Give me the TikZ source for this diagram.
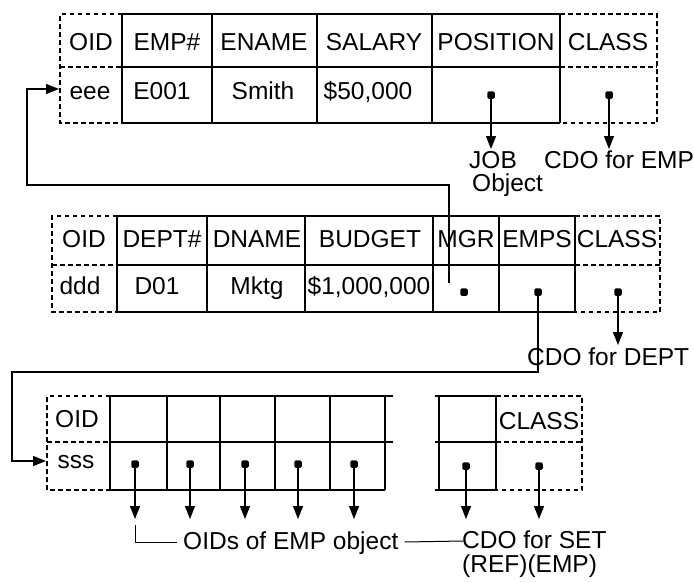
\documentclass[tikz,border=0pt]{standalone}
\usepackage{fontspec}
\setmainfont{Liberation Sans}
\usetikzlibrary{arrows.meta}
\begin{document}
\begin{tikzpicture}[x=1pt,y=-1pt,
  grid/.style={line width=1.4pt},
  dashl/.style={line width=1.2pt, dash pattern=on 4.5pt off 3.5pt},
  txt/.style={font=\fontsize{24.5}{22}\selectfont, inner sep=0pt, anchor=base},
  lbl/.style={font=\fontsize{24.5}{22}\selectfont, inner sep=0pt, anchor=base west},
  dotn/.style={rectangle, rounded corners=1.5pt, fill=black, minimum size=7.5pt, inner sep=0pt},
  arr/.style={-{Triangle[length=13pt,width=10pt]}, line width=1.2pt},
  thin/.style={line width=1pt},
]
\useasboundingbox[fill=white] (0,0) rectangle (694,582);

% ---------------- Table 1: EMP ----------------
\draw[grid] (122,14) -- (560,14) (122,67) -- (560,67) (122,123) -- (560,123);
\foreach \x in {122,212,317,432,560} \draw[grid] (\x,14) -- (\x,123);
\draw[dashl] (122,14) -- (60,14) -- (60,123) -- (122,123) (60,67) -- (122,67);
\draw[dashl] (560,14) -- (657,14) -- (657,123) -- (560,123) (560,67) -- (657,67);
\node[txt] (e1) at (91,50) {OID};
\node[txt] (e2) at (167,50) {EMP\#};
\node[txt] (e3) at (264,50) {ENAME};
\node[txt] (e4) at (374,50) {SALARY};
\node[txt] (e5) at (496,50) {POSITION};
\node[txt] (e6) at (608,50) {CLASS};
\node[txt] (e7) at (90,99) {eee};
\node[txt] (e8) at (162,99) {E001};
\node[txt] (e9) at (263,99) {Smith};
\node[txt] (e10) at (368,99) {\$50,000};
\node[dotn] (posdot) at (491,95) {};
\node[dotn] (clsdot1) at (609,95) {};
\node[lbl] (job) at (469,168) {JOB};
\node[lbl] (jobobj) at (472,191) {Object};
\node[lbl] (cdoemp) at (544,168) {CDO for EMP};
\coordinate (jobtip) at (491,149);
\coordinate (cdoemptip) at (609,149);
\draw[arr] (posdot.center) -- (jobtip);
\draw[arr] (clsdot1.center) -- (cdoemptip);

% ---------------- Table 2: DEPT ----------------
\draw[grid] (117,216) -- (575,216) (117,265) -- (575,265) (117,312) -- (575,312);
\foreach \x in {117,207,305,433,499,575} \draw[grid] (\x,216) -- (\x,312);
\draw[dashl] (117,216) -- (52,216) -- (52,312) -- (117,312) (52,265) -- (117,265);
\draw[dashl] (575,216) -- (660,216) -- (660,312) -- (575,312) (575,265) -- (660,265);
\node[txt] (d1) at (84,247) {OID};
\node[txt] (d2) at (162,247) {DEPT\#};
\node[txt] (d3) at (257,247) {DNAME};
\node[txt] (d4) at (370,247) {BUDGET};
\node[txt] (d5) at (466,247) {MGR};
\node[txt] (d6) at (537,247) {EMPS};
\node[txt] (d7) at (617,247) {CLASS};
\node[txt] (d8) at (80,294) {ddd};
\node[txt] (d9) at (157,294) {D01};
\node[txt] (d10) at (257,294) {Mktg};
\node[txt] (d11) at (369,294) {\$1,000,000};
\node[dotn] (mgrdot) at (464,292) {};
\node[dotn] (empsdot) at (538,292) {};
\node[dotn] (clsdot2) at (618,292) {};
\node[lbl] (cdodept) at (527,365) {CDO for DEPT};
\coordinate (cdodepttip) at (618,345);
\draw[arr] (clsdot2.center) -- (cdodepttip);

% MGR reference back to EMP object
\coordinate (mgrtail) at (449,283);
\coordinate (eeein) at (59,89);
\draw[arr] (mgrtail) -- (449,185) -- (27,185) -- (27,89) -- (eeein);

% EMPS reference to SET object
\coordinate (sssin) at (46,461);
\draw[arr] (empsdot.center) -- (538,372) -- (12,372) -- (12,461) -- (sssin);

% ---------------- Table 3: SET ----------------
\draw[grid] (110,396) -- (393,396) (110,442) -- (393,442) (110,490) -- (385,490);
\foreach \x in {110,167,220,275,330,385} \draw[grid] (\x,396) -- (\x,490);
\draw[dashl] (110,396) -- (47,396) -- (47,490) -- (110,490) (47,442) -- (110,442);
\node[txt] (s1) at (77,427) {OID};
\node[txt] (s2) at (76,468) {sss};
\foreach \i/\x in {1/135,2/190,3/245,4/298,5/354} {
  \node[dotn] (sd\i) at (\x,464) {};
  \coordinate (st\i) at (\x,519);
  \draw[arr] (sd\i.center) -- (st\i);
}

% CDO box for SET
\draw[grid] (435,396) -- (496,396) (435,442) -- (496,442) (435,490) -- (496,490);
\draw[grid] (439,396) -- (439,490) (496,396) -- (496,490);
\draw[dashl] (496,396) -- (582,396) -- (582,490) -- (496,490) (496,442) -- (582,442);
\node[txt] (c1) at (539,429) {CLASS};
\node[dotn] (cd1) at (466,466) {};
\node[dotn] (cd2) at (539,466) {};
\coordinate (ct1) at (466,519);
\coordinate (ct2) at (539,519);
\draw[arr] (cd1.center) -- (ct1);
\draw[arr] (cd2.center) -- (ct2);

% bottom labels
\node[lbl] (oids) at (183,549) {OIDs of EMP object};
\node[lbl] (cdoset) at (462,548) {CDO for SET};
\node[lbl] (refemp) at (462,572) {(REF)(EMP)};
\coordinate (brk) at (135,525);
\draw[thin] (brk) |- ([xshift=-6pt,yshift=7pt]oids.base west);
\draw[thin] ([xshift=6pt,yshift=7pt]oids.base east) -- ([xshift=1pt,yshift=7pt]cdoset.base west);
\end{tikzpicture}
\end{document}
